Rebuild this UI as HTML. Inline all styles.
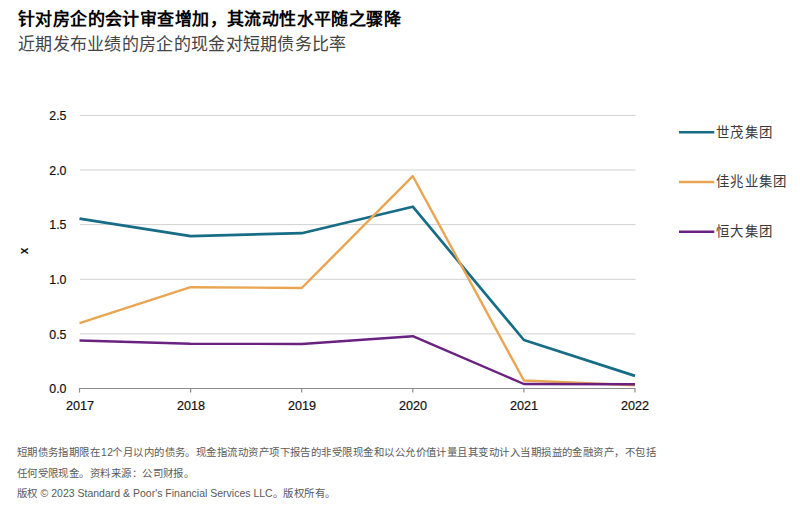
<!DOCTYPE html>
<html lang="zh-CN"><head><meta charset="utf-8">
<style>
html,body{margin:0;padding:0;background:#fff;}
body{width:800px;height:511px;position:relative;overflow:hidden;font-family:"Liberation Sans",sans-serif;}
.t{position:absolute;white-space:nowrap;line-height:1;}
#title{left:18px;top:10.5px;font-size:17px;letter-spacing:0.41px;font-weight:bold;color:#000;}
#sub{left:18px;top:36px;font-size:17px;letter-spacing:0.3px;color:#444;font-family:"Liberation Serif",serif;}
.yl{position:absolute;right:733.6px;font-size:13.3px;color:#111;line-height:1;margin-top:0.5px;-webkit-text-stroke:0.2px #111;transform:scaleX(0.93);transform-origin:100% 50%;}
.xl{position:absolute;width:60px;text-align:center;font-size:13.6px;color:#111;line-height:1;top:398.6px;-webkit-text-stroke:0.2px #111;transform:scaleX(0.93);}
.lg{position:absolute;left:716.4px;font-size:13.4px;letter-spacing:1.1px;color:#3a3a3a;font-family:"Liberation Serif",serif;line-height:1;}
.ft{position:absolute;left:16.6px;font-size:10.4px;letter-spacing:0.46px;color:#5a5a5a;font-family:"Liberation Serif",serif;line-height:1;white-space:nowrap;}
.ss{font-family:"Liberation Sans",sans-serif;letter-spacing:0;}
#xlab{position:absolute;left:21.2px;top:244.9px;font-size:12px;font-weight:bold;color:#111;transform:rotate(-90deg);line-height:1;}
svg{position:absolute;left:0;top:0;}
</style></head><body>
<div class="t" id="title">针对房企的会计审查增加，其流动性水平随之骤降</div>
<div class="t" id="sub">近期发布业绩的房企的现金对短期债务比率</div>

<svg width="800" height="511" viewBox="0 0 800 511">
  <g stroke="#d2d2d2" stroke-width="1">
    <line x1="80" y1="115.4" x2="635.5" y2="115.4"/>
    <line x1="80" y1="170.0" x2="635.5" y2="170.0"/>
    <line x1="80" y1="224.6" x2="635.5" y2="224.6"/>
    <line x1="80" y1="279.3" x2="635.5" y2="279.3"/>
    <line x1="80" y1="333.9" x2="635.5" y2="333.9"/>
  </g>
  <g stroke="#8c8c8c" stroke-width="1.2" fill="none">
    <line x1="79" y1="388.5" x2="635.6" y2="388.5"/>
    <line x1="79.5" y1="388.5" x2="79.5" y2="392.6"/>
    <line x1="190.6" y1="388.5" x2="190.6" y2="392.6"/>
    <line x1="301.7" y1="388.5" x2="301.7" y2="392.6"/>
    <line x1="412.8" y1="388.5" x2="412.8" y2="392.6"/>
    <line x1="523.9" y1="388.5" x2="523.9" y2="392.6"/>
    <line x1="635" y1="388.5" x2="635" y2="392.6"/>
  </g>
  <g fill="none" stroke-width="2.4" stroke-linejoin="round" stroke-linecap="butt">
    <polyline stroke="#176c86" stroke-width="2.7" points="79.5,218.6 190.6,236.1 301.7,233.2 412.8,206.7 523.9,340.0 635,375.9"/>
    <polyline stroke="#eaa552" points="79.5,323.2 190.6,287.2 301.7,288.0 412.8,176.2 523.9,380.5 635,385.2"/>
    <polyline stroke="#6a2280" points="79.5,340.5 190.6,343.7 301.7,344.0 412.8,336.2 523.9,384.0 635,384.3"/>
  </g>
  <g stroke-width="2.6" stroke-linecap="butt">
    <line x1="679" y1="132.2" x2="714.3" y2="132.2" stroke="#176c86"/>
    <line x1="679" y1="182" x2="714.3" y2="182" stroke="#eaa552"/>
    <line x1="679" y1="231.8" x2="714.3" y2="231.8" stroke="#6a2280"/>
  </g>
</svg>

<div class="yl" style="top:108.5px">2.5</div>
<div class="yl" style="top:163.1px">2.0</div>
<div class="yl" style="top:217.7px">1.5</div>
<div class="yl" style="top:272.4px">1.0</div>
<div class="yl" style="top:327px">0.5</div>
<div class="yl" style="top:381.6px">0.0</div>

<div class="xl" style="left:49.5px">2017</div>
<div class="xl" style="left:160.6px">2018</div>
<div class="xl" style="left:271.7px">2019</div>
<div class="xl" style="left:382.8px">2020</div>
<div class="xl" style="left:493.9px">2021</div>
<div class="xl" style="left:605px">2022</div>

<div id="xlab">x</div>

<div class="lg" style="top:125.5px">世茂集团</div>
<div class="lg" style="top:175.3px">佳兆业集团</div>
<div class="lg" style="top:225.1px">恒大集团</div>

<div class="ft" style="top:447.6px">短期债务指期限在<span class="ss" style="font-size:10.2px;letter-spacing:0.7px;margin-left:0.7px;margin-right:-1.5px">12</span>个月以内的债务。现金指流动资产项下报告的非受限现金和以公允价值计量且其变动计入当期损益的金融资产，不包括</div>
<div class="ft" style="top:469px">任何受限现金。资料来源：公司财报。</div>
<div class="ft" style="top:488.2px">版权 <span class="ss" style="font-size:10.5px">© 2023 Standard &amp; Poor's Financial Services LLC</span>。版权所有。</div>
</body></html>
